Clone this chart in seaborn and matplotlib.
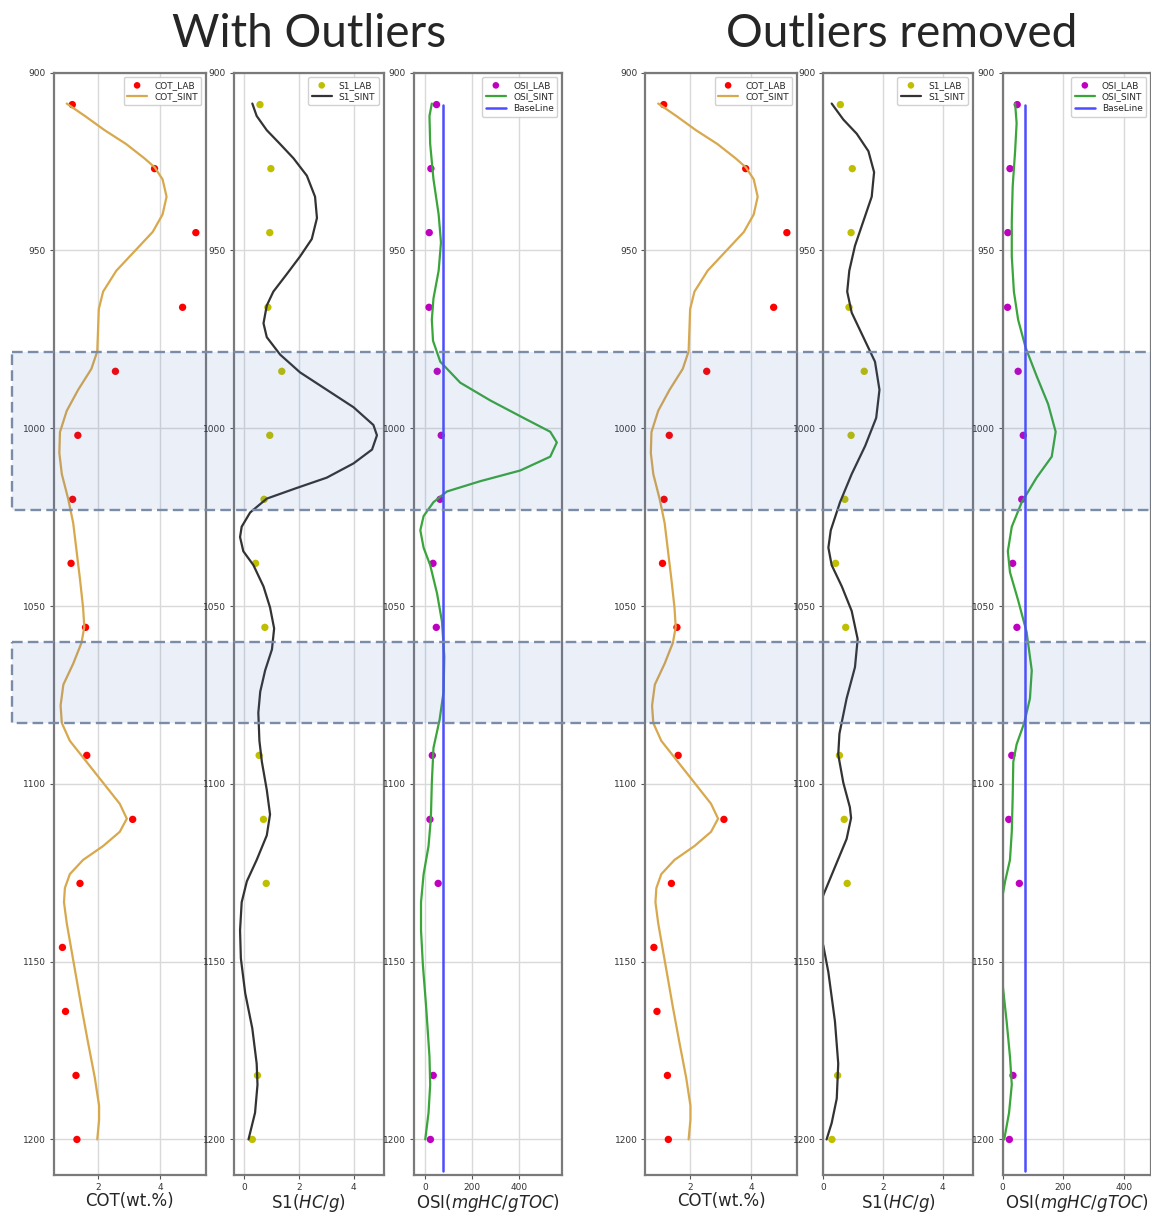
import matplotlib
matplotlib.use("Agg")
import matplotlib.pyplot as plt
import matplotlib.transforms as mtransforms
from matplotlib.patches import Rectangle
import seaborn as sns

# ---------------- lab samples ----------------
lab_depth = [909, 927, 945, 966, 984, 1002, 1020, 1038, 1056, 1092, 1110, 1128, 1146, 1164, 1182, 1200]
cot_lab = [1.15, 3.82, 5.16, 4.73, 2.55, 1.33, 1.16, 1.11, 1.58, 1.62, 3.11, 1.40, 0.83, 0.93, 1.27, 1.30]

s1_depth = [909, 927, 945, 966, 984, 1002, 1020, 1038, 1056, 1092, 1110, 1128, 1182, 1200]
s1_lab = [0.57, 0.97, 0.93, 0.86, 1.37, 0.93, 0.72, 0.41, 0.75, 0.54, 0.70, 0.80, 0.48, 0.29]
osi_lab = [48, 24, 17, 16, 51, 68, 63, 33, 47, 30, 20, 55, 34, 22]

baseline_value = 75
baseline_depth = [909, 1209]

# ---------------- synthetic curves ----------------
cot_sint_depth = [908.7, 912.2, 916.2, 920.1, 924.1, 926.6, 930.0, 934.9, 939.9, 944.8, 949.7, 955.7,
                  961.6, 966.5, 971.4, 978.4, 983.3, 989.2, 995.1, 1001.1, 1007.0, 1012.9, 1020.0,
                  1026.7, 1034.6, 1042.5, 1050.4, 1055.9, 1060.3, 1066.2, 1072.1, 1078.0, 1082.9,
                  1087.9, 1093.8, 1099.7, 1105.6, 1109.8, 1113.5, 1117.5, 1121.4, 1125.4, 1129.3,
                  1133.3, 1139.2, 1147.1, 1155.0, 1162.9, 1172.7, 1182.6, 1190.5, 1194.5, 1200]
cot_sint = [0.97, 1.56, 2.20, 2.90, 3.49, 3.82, 4.08, 4.21, 4.08, 3.76, 3.23, 2.58, 2.15, 2.01, 1.99,
            1.96, 1.77, 1.34, 0.97, 0.75, 0.73, 0.81, 1.02, 1.18, 1.29, 1.40, 1.50, 1.54, 1.45, 1.18,
            0.86, 0.77, 0.81, 1.07, 1.61, 2.15, 2.69, 2.92, 2.69, 2.15, 1.50, 1.07, 0.91, 0.88, 0.97,
            1.13, 1.29, 1.45, 1.66, 1.88, 2.02, 2.02, 1.96]

# with outliers
s1_sint_depth = [908.7, 912.2, 916.2, 920.1, 924.1, 929.0, 934.9, 940.9, 946.8, 951.7, 956.6, 961.6,
                 965.5, 970.5, 974.4, 979.3, 984.3, 989.2, 994.1, 999.1, 1002.0, 1006.0, 1009.9,
                 1013.9, 1016.8, 1019.8, 1023.7, 1027.7, 1030.6, 1034.6, 1038.5, 1044.5, 1050.4,
                 1056.3, 1062.2, 1068.1, 1074.1, 1080.0, 1087.9, 1093.8, 1101.7, 1108.6, 1114.5,
                 1121.4, 1127.4, 1133.3, 1141.2, 1149.1, 1158.9, 1168.8, 1178.7, 1184.6, 1192.5, 1200]
s1_sint = [0.29, 0.45, 0.82, 1.31, 1.80, 2.29, 2.59, 2.66, 2.47, 2.04, 1.56, 1.06, 0.82, 0.70, 0.82,
           1.31, 2.04, 3.02, 4.00, 4.73, 4.86, 4.68, 4.00, 3.02, 1.92, 0.82, 0.21, -0.10, -0.16, -0.04,
           0.33, 0.70, 0.94, 1.09, 1.01, 0.76, 0.58, 0.51, 0.55, 0.64, 0.82, 0.94, 0.82, 0.45, 0.09,
           -0.10, -0.16, -0.13, 0.03, 0.29, 0.45, 0.48, 0.39, 0.15]

osi_sint_depth = [908.7, 912.2, 920.1, 930.0, 939.9, 947.8, 955.7, 963.5, 969.5, 975.4, 981.3, 987.2,
                  992.2, 997.1, 1001.0, 1004.0, 1008.0, 1011.9, 1014.9, 1017.8, 1020.8, 1024.7,
                  1028.7, 1033.6, 1038.5, 1046.4, 1054.3, 1064.2, 1074.1, 1082.0, 1089.9, 1099.7,
                  1109.6, 1117.5, 1125.4, 1133.3, 1141.2, 1151.0, 1162.9, 1176.7, 1184.6, 1192.5, 1200]
osi_sint = [28, 18, 21, 35, 57, 67, 57, 35, 28, 33, 64, 149, 277, 418, 532, 560, 532, 404, 234, 92,
            35, -7, -21, -7, 21, 50, 71, 81, 78, 61, 35, 28, 24, 14, -7, -18, -18, -10, 4, 18, 21, 14, 0]

# outliers removed
s1_clean_depth = [908.7, 913.2, 917.2, 922.1, 928.0, 934.9, 941.8, 948.7, 955.7, 961.6, 967.5, 974.4,
                  981.3, 989.2, 997.1, 1005.0, 1012.9, 1020.8, 1028.7, 1033.6, 1038.5, 1044.5,
                  1051.4, 1059.3, 1067.2, 1076.0, 1085.9, 1091.8, 1099.7, 1106.6, 1109.6, 1115.5,
                  1123.4, 1131.3, 1138.2, 1145.5, 1153.0, 1166.8, 1178.7, 1188.5, 1195.4, 1200]
s1_clean = [0.28, 0.67, 1.12, 1.51, 1.70, 1.62, 1.34, 1.06, 0.87, 0.80, 0.95, 1.34, 1.73, 1.88, 1.77,
            1.40, 0.95, 0.56, 0.25, 0.17, 0.28, 0.62, 0.95, 1.15, 1.06, 0.78, 0.54, 0.50, 0.67, 0.89,
            0.93, 0.78, 0.39, 0.0, -0.30, 0.0, 0.17, 0.39, 0.50, 0.45, 0.28, 0.11]

osi_clean_depth = [908.7, 914.2, 922.1, 932.0, 941.8, 951.7, 961.6, 969.5, 977.4, 985.3, 993.2, 1001.0,
                   1008.0, 1013.9, 1020.8, 1027.7, 1034.6, 1040.5, 1048.4, 1057.3, 1068.1, 1076.0,
                   1082.9, 1088.9, 1093.8, 1103.7, 1113.5, 1121.4, 1127.4, 1131.3, 1138.2, 1149.1,
                   1156.6, 1166.8, 1176.7, 1184.6, 1192.5, 1200]
osi_clean = [41, 46, 41, 33, 30, 30, 37, 51, 76, 112, 150, 175, 162, 112, 63, 30, 17, 24, 51, 79,
             96, 90, 71, 46, 35, 33, 30, 24, 8, 0, -25, -25, 0, 13, 24, 30, 21, 5]

# highlighted depth intervals
zones = [(978.5, 1023.0), (1060.0, 1083.0)]

titles = ["With Outliers", "Outliers removed"]

sns.set_style("whitegrid")
plt.rcParams['font.family'] = ['DejaVu Sans']
plt.rcParams['lines.solid_joinstyle'] = 'round'

W, H = 1151, 1216
fig = plt.figure(figsize=(W / 100, H / 100), dpi=100)


def add_ax(x0, x1, y0=72.6, y1=1175):
    ax = fig.add_axes([x0 / W, 1 - y1 / H, (x1 - x0) / W, (y1 - y0) / H])
    return ax


def style_ax(ax, xlim, xticks, xlabel):
    ax.set_ylim(1210, 900)
    ax.set_xlim(*xlim)
    ax.set_xticks(xticks)
    ax.set_yticks([900, 950, 1000, 1050, 1100, 1150, 1200])
    ax.grid(True, color='#d9d9d9', lw=1)
    for s in ax.spines.values():
        s.set_color('#7a7a7a')
        s.set_linewidth(1.6)
    ax.tick_params(axis='both', labelsize=6.5, labelcolor='#333333', length=3, width=0.8,
                   color='#555555', left=True, bottom=True, pad=2.5)
    ax.set_xlabel(xlabel, fontsize=12, labelpad=0)
    ax.set_ylabel('')
    ax.legend(loc='upper right', fontsize=6.5, markerscale=0.9, handlelength=2.2,
              borderpad=0.4, labelspacing=0.3, framealpha=0.9)


panels = [
    dict(x=[(53.5, 206), (233.5, 383.5), (413.5, 562)],
         s1=(s1_sint_depth, s1_sint), osi=(osi_sint_depth, osi_sint),
         s1_xlim=(-0.4, 5.1), osi_xlim=(-50, 582), title_x=309),
    dict(x=[(645, 797), (823.3, 972.7), (1002.7, 1151)],
         s1=(s1_clean_depth, s1_clean), osi=(osi_clean_depth, osi_clean),
         s1_xlim=(0, 5), osi_xlim=(0, 490), title_x=902),
]

first_ax = None
for p, title in zip(panels, titles):
    ax1 = add_ax(*p['x'][0])
    ax2 = add_ax(*p['x'][1])
    ax3 = add_ax(*p['x'][2])
    if first_ax is None:
        first_ax = ax1

    sns.scatterplot(x=cot_lab, y=lab_depth, color='red', s=28, edgecolor='none', label='COT_LAB', ax=ax1)
    sns.lineplot(x=cot_sint, y=cot_sint_depth, sort=False, estimator=None, color='#d8a84c', lw=1.6,
                 label='COT_SINT', ax=ax1)
    style_ax(ax1, (0.54, 5.49), [2, 4], 'COT(wt.%)')

    sns.scatterplot(x=s1_lab, y=s1_depth, color='#bfbf00', s=28, edgecolor='none', label='S1_LAB', ax=ax2)
    sns.lineplot(x=p['s1'][1], y=p['s1'][0], sort=False, estimator=None, color='#333333', lw=1.6,
                 label='S1_SINT', ax=ax2)
    style_ax(ax2, p['s1_xlim'], [0, 2, 4], 'S1($HC/g$)')

    sns.scatterplot(x=osi_lab, y=s1_depth, color='#c000c0', s=28, edgecolor='none', label='OSI_LAB', ax=ax3)
    sns.lineplot(x=p['osi'][1], y=p['osi'][0], sort=False, estimator=None, color='#3aa63a', lw=1.6,
                 label='OSI_SINT', ax=ax3)
    sns.lineplot(x=[baseline_value] * len(baseline_depth), y=baseline_depth, sort=False, estimator=None,
                 color='#4d4dff', lw=1.8, label='BaseLine', ax=ax3)
    style_ax(ax3, p['osi_xlim'], [0, 200, 400], 'OSI($mgHC/gTOC$)')

    fig.text(p['title_x'] / W, 1 - 47 / H, title, ha='center', va='baseline', fontsize=33,
             family=['Lato', 'DejaVu Sans'])

# dashed highlight bands across the whole figure
trans = mtransforms.blended_transform_factory(fig.transFigure, first_ax.transData)
for z0, z1 in zones:
    rect = Rectangle((12 / W, z0), 1.05, z1 - z0, transform=trans,
                     facecolor=(0.25, 0.44, 0.77, 0.11), edgecolor='#7b8ca8',
                     lw=1.7, linestyle=(0, (4.5, 2.2)), zorder=10)
    fig.add_artist(rect)

fig.savefig('out.png', dpi=100)
